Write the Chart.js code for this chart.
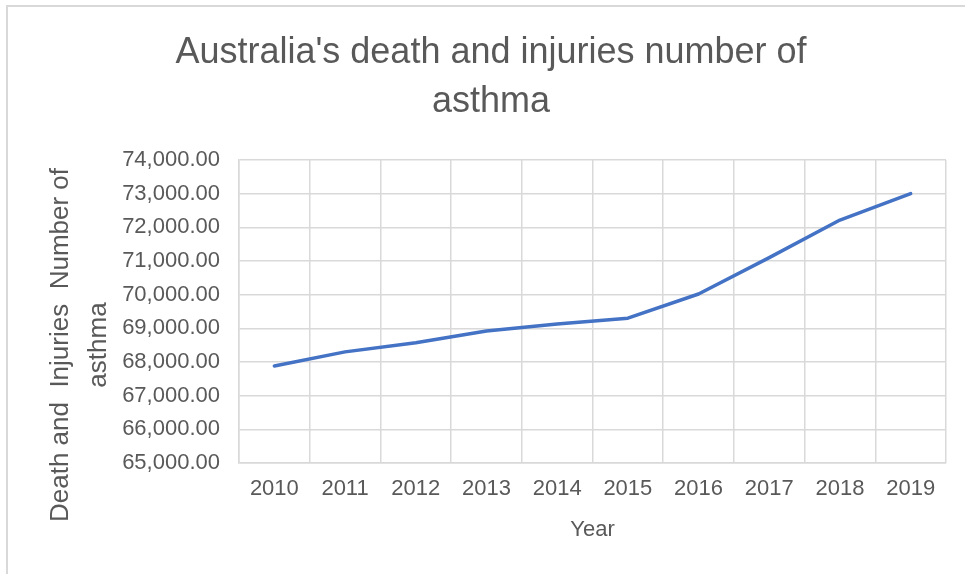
<!DOCTYPE html>
<html>
<head>
<meta charset="utf-8">
<title>Australia asthma deaths and injuries</title>
<script src="https://cdn.jsdelivr.net/npm/chart.js@4/dist/chart.umd.min.js"></script>
<style>
    html, body { margin: 0; padding: 0; background: #fff; }
    #wrap { position: relative; width: 965px; height: 574px; }
</style>
</head>
<body>
<div id="wrap"><canvas id="asthmaChart"></canvas></div>
<script>
// data
const years = ['2010', '2011', '2012', '2013', '2014', '2015', '2016', '2017', '2018', '2019'];
const cases = [67880, 68300, 68570, 68920, 69130, 69300, 70020, 71100, 72215, 73000];
const titleLines = ["Australia's death and injuries number of", 'asthma'];
const yTitleLines = ['Death and  Injuries  Number of', 'asthma'];
const xTitle = 'Year';
const yMin = 65000, yMax = 74000, yStep = 1000;

const FONT = "'Liberation Sans', Arial, sans-serif";
const TEXT = '#595959';
const GRID = '#d9d9d9';

// outer frame + rotated y title (centered a bit lower than the plot)
const framePlugin = {
    id: 'frame',
    beforeDraw(chart) {
        const ctx = chart.ctx;
        ctx.save();
        ctx.strokeStyle = GRID;
        ctx.lineWidth = 2;
        ctx.beginPath();
        ctx.moveTo(7, chart.height);
        ctx.lineTo(7, 6);
        ctx.lineTo(chart.width, 6);
        ctx.stroke();
        ctx.restore();
    },
    afterDraw(chart) {
        const ctx = chart.ctx;
        ctx.save();
        ctx.translate(68, 345);
        ctx.rotate(-Math.PI / 2);
        ctx.fillStyle = TEXT;
        ctx.font = '26px ' + FONT;
        ctx.textAlign = 'center';
        ctx.textBaseline = 'alphabetic';
        yTitleLines.forEach((line, i) => ctx.fillText(line, 0, i * 38));
        ctx.restore();
    }
};

function initChart() {
    const ctx = document.getElementById('asthmaChart').getContext('2d');
    new Chart(ctx, {
        type: 'line',
        data: {
            labels: years,
            datasets: [{
                data: cases,
                borderColor: '#4472c4',
                borderWidth: 3.5,
                borderJoinStyle: 'round',
                borderCapStyle: 'round',
                pointRadius: 0,
                tension: 0,
                fill: false
            }]
        },
        options: {
            responsive: true,
            maintainAspectRatio: false,
            animation: false,
            // left padding keeps the title centred where it belongs
            layout: { padding: { left: 36, right: 19, top: 0, bottom: 0 } },
            plugins: {
                legend: { display: false },
                tooltip: { enabled: false },
                title: {
                    display: true,
                    text: titleLines,
                    color: TEXT,
                    font: { family: FONT, size: 36, weight: 'normal', lineHeight: 1.38 },
                    padding: { top: 28, bottom: 32.6 }
                }
            },
            scales: {
                x: {
                    offset: true,
                    grid: { offset: true, color: GRID, lineWidth: 1.5, drawTicks: false },
                    border: { display: true, color: GRID, width: 1.5 },
                    ticks: { color: TEXT, font: { family: FONT, size: 22 }, padding: 13, maxRotation: 0 },
                    title: {
                        display: true,
                        text: xTitle,
                        color: TEXT,
                        font: { family: FONT, size: 22 },
                        padding: { top: 0, bottom: 31 }
                    },
                    afterFit: scale => { scale.height = 111; }
                },
                y: {
                    min: yMin,
                    max: yMax,
                    grid: { color: GRID, lineWidth: 1.5, drawTicks: false },
                    border: { display: true, color: GRID, width: 1.5 },
                    ticks: {
                        stepSize: yStep,
                        color: TEXT,
                        font: { family: FONT, size: 22 },
                        padding: 19,
                        callback: v => v.toLocaleString('en-US', { minimumFractionDigits: 2, maximumFractionDigits: 2 })
                    },
                    afterFit: scale => { scale.width = 203; }
                }
            }
        },
        plugins: [framePlugin]
    });
}

window.addEventListener('load', initChart);
</script>
</body>
</html>
